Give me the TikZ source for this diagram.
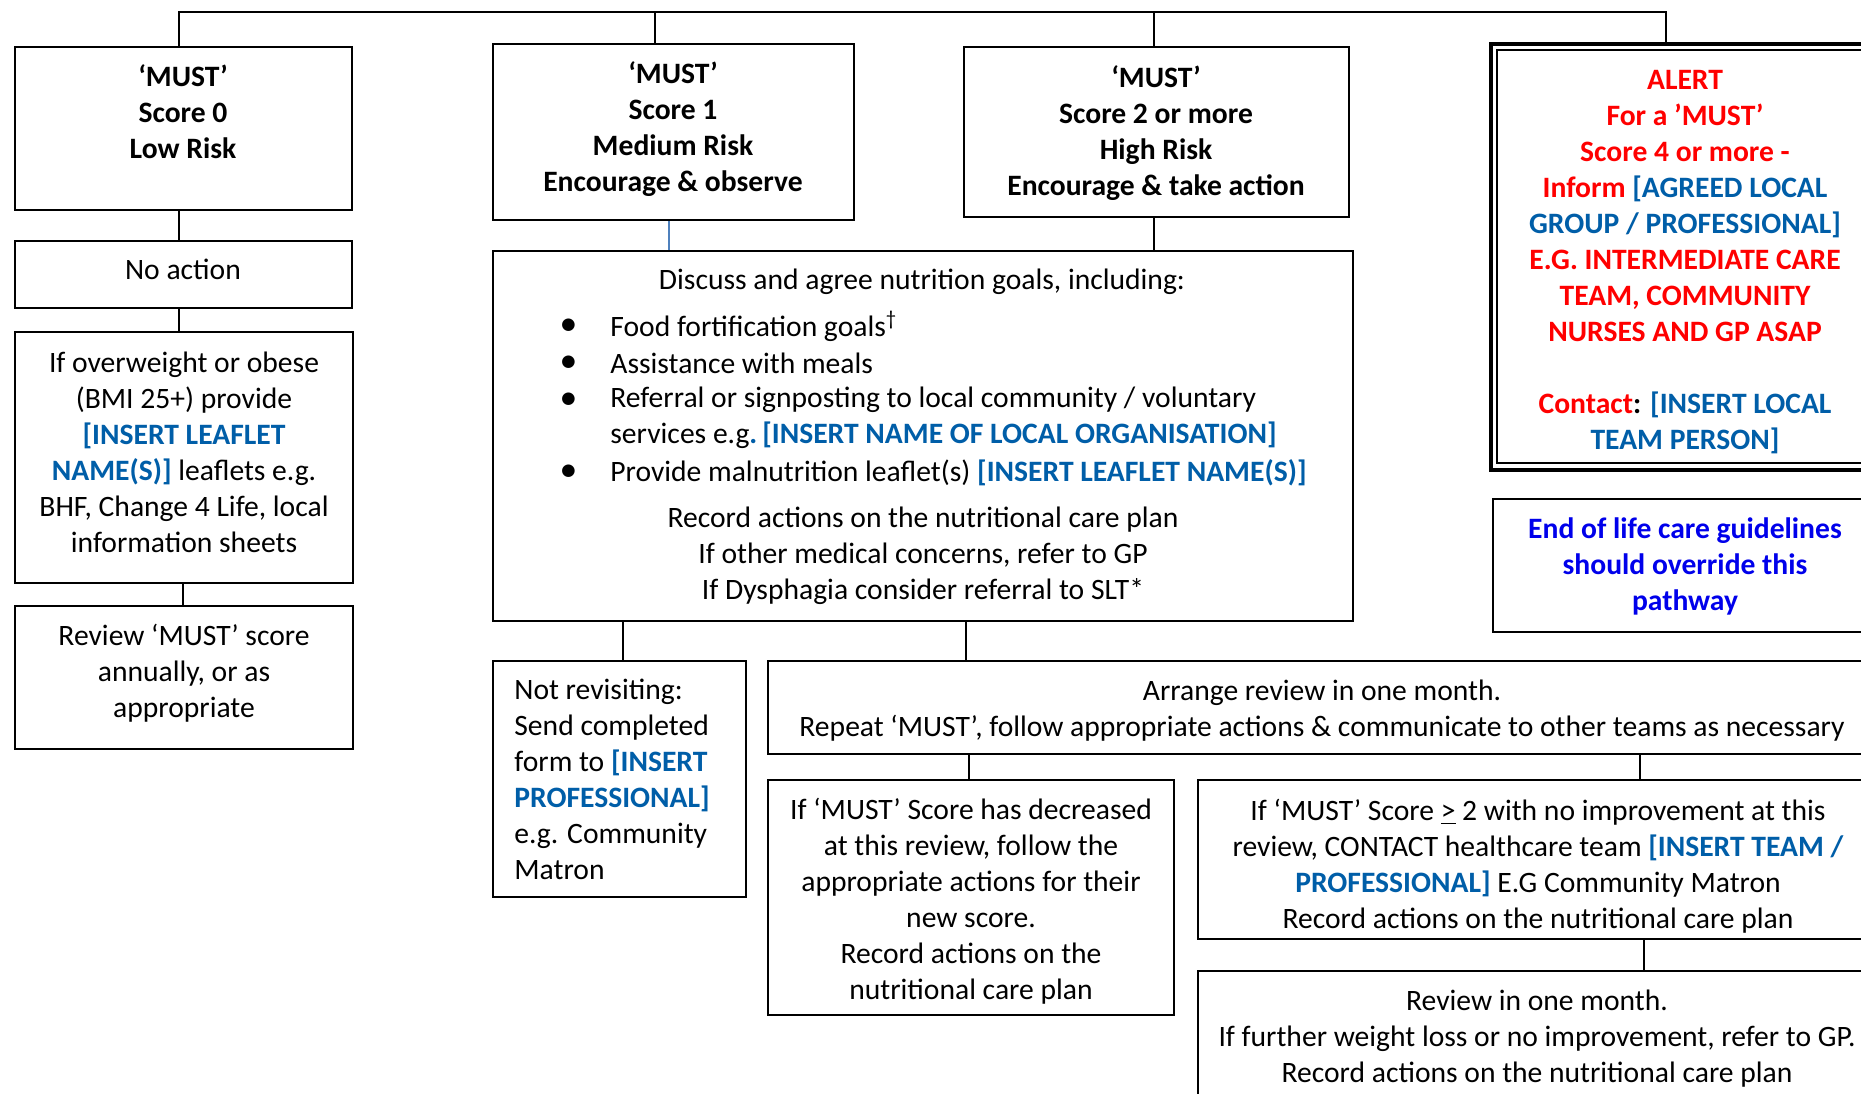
\documentclass[tikz,border=0pt]{standalone}
\usepackage{fontspec}
\setmainfont{Carlito}
\usetikzlibrary{fit}
\definecolor{phblue}{RGB}{0,94,168}
\definecolor{eolblue}{RGB}{0,0,235}
\definecolor{alertred}{RGB}{255,0,0}
\definecolor{lineblue}{RGB}{79,129,189}
\newcommand{\fsz}{\fontsize{14.8}{18}\selectfont}
\newcommand{\ph}[1]{\textcolor{phblue}{\bfseries #1}}
\tikzset{
  box/.style={draw, line width=1pt, inner sep=0pt, fill=none},
  conn/.style={draw, line width=0.75pt},
  txt/.style={align=center, inner sep=0pt, font=\fsz},
  ltxt/.style={align=left, inner sep=0pt, font=\fsz},
}
\begin{document}
\begin{tikzpicture}[x=0.5pt,y=-0.5pt]
\useasboundingbox (0,0) rectangle (1861,1093);
\fill[white] (0,0) rectangle (1861,1093);
\clip (0,0) rectangle (1861,1093);

% ---- boxes ----
\node[box, fit={(15,47) (352,210)}] (b0) {};
\node[box, fit={(493,44) (854,220)}] (b1) {};
\node[box, fit={(964,47) (1349,217)}] (b2) {};
\node[box, line width=1.6pt, fit={(1491,44) (1879,470)}] (alert) {};
\node[box, fit={(1497,50) (1873,463)}] (alertin) {};
\node[box, fit={(1493,499) (1877,632)}] (eol) {};
\node[box, fit={(15,241) (352,308)}] (noact) {};
\node[box, fit={(15,332) (353,583)}] (ow) {};
\node[box, fit={(15,606) (353,749)}] (rev) {};
\node[box, fit={(493,251) (1353,621)}] (disc) {};
\node[box, fit={(493,661) (746,897)}] (notrev) {};
\node[box, fit={(768,661) (1876,754)}] (arr) {};
\node[box, fit={(768,780) (1174,1015)}] (dec) {};
\node[box, fit={(1198,780) (1878,939)}] (ge2) {};
\node[box, fit={(1198,971) (1878,1110)}] (revm) {};

% ---- texts ----
\node[txt, font=\fsz\bfseries] (t0) at (183,112) {‘MUST’\\Score 0\\Low Risk};
\node[txt, font=\fsz\bfseries] (t1) at (673,129) {‘MUST’\\Score 1\\Medium Risk\\Encourage \& observe};
\node[txt, font=\fsz\bfseries] (t2) at (1156,133) {‘MUST’\\Score 2 or more\\High Risk\\Encourage \& take action};
\node[txt, font=\fsz\bfseries, text=alertred] (talert) at (1685,261.7) {ALERT\\For a ’MUST’\\Score 4 or more -\\Inform \textcolor{phblue}{[AGREED LOCAL}\\\textcolor{phblue}{GROUP / PROFESSIONAL]}\\E.G. INTERMEDIATE CARE\\TEAM, COMMUNITY\\NURSES AND GP ASAP\\[18pt]Contact\textcolor{black}{:} \textcolor{phblue}{[INSERT LOCAL}\\\textcolor{phblue}{TEAM PERSON]}};
\node[txt, font=\fsz\bfseries, text=eolblue] (teol) at (1685,566) {End of life care guidelines\\should override this\\pathway};
\node[txt] (tnoact) at (183,269.5) {No action};
\node[txt] (tow) at (184,452) {If overweight or obese\\(BMI 25+) provide\\\ph{[INSERT LEAFLET}\\\ph{NAME(S)]} leaflets e.g.\\BHF, Change 4 Life, local\\information sheets};
\node[txt] (trev) at (184,673.5) {Review ‘MUST’ score\\annually, or as\\appropriate};

\node[txt] (tdisc) at (922,281.4) {Discuss and agree nutrition goals, including:};
\node[txt, font=\fsz\bfseries] (bu1) at (568.5,326) {•};
\node[txt, font=\fsz\bfseries] (bu2) at (568.5,363) {•};
\node[txt, font=\fsz\bfseries] (bu3) at (568.5,400) {•};
\node[txt, font=\fsz\bfseries] (bu4) at (568.5,472.4) {•};
\node[ltxt, anchor=west] (i1) at (610,326.4) {Food fortification goals\textsuperscript{†}};
\node[ltxt, anchor=west] (i2) at (610,363.4) {Assistance with meals};
\node[ltxt, anchor=west] (i3) at (610,417.7) {Referral or signposting to local community / voluntary\\services e.g\ph{.\,[INSERT NAME OF LOCAL ORGANISATION]}};
\node[ltxt, anchor=west] (i4) at (610,472.4) {Provide malnutrition leaflet(s) \ph{[INSERT LEAFLET NAME(S)]}};
\node[txt] (tdisc2) at (923,555.4) {Record actions on the nutritional care plan\\If other medical concerns, refer to GP\\If Dysphagia consider referral to SLT*};

\node[ltxt, anchor=west] (tnotrev) at (514,779) {Not revisiting:\\Send completed\\form to \ph{[INSERT}\\\ph{PROFESSIONAL]}\\e.g. Community\\Matron};
\node[txt] (tarr) at (1322,710.4) {Arrange review in one month.\\Repeat ‘MUST’, follow appropriate actions \& communicate to other teams as necessary};
\node[txt] (tdec) at (971,901) {If ‘MUST’ Score has decreased\\at this review, follow the\\appropriate actions for their\\new score.\\Record actions on the\\nutritional care plan};
\node[txt] (tge2) at (1538,866) {If ‘MUST’ Score \underline{>} 2 with no improvement at this\\review, CONTACT healthcare team \ph{[INSERT TEAM /}\\\ph{PROFESSIONAL]} E.G Community Matron\\Record actions on the nutritional care plan};
\node[txt] (trevm) at (1537,1039) {Review in one month.\\If further weight loss or no improvement, refer to GP.\\Record actions on the nutritional care plan};

% ---- connectors ----
\coordinate (busR) at (1666,12);
\draw[conn] (b0.north -| 179,0) |- (busR) -- (alert.north -| busR);
\draw[conn] (b1.north -| 655,0) -- (655,12);
\draw[conn] (b2.north -| 1154,0) -- (1154,12);
\draw[conn] (b0.south -| 179,0) -- (noact.north -| 179,0);
\draw[conn] (noact.south -| 179,0) -- (ow.north -| 179,0);
\draw[conn] (ow.south -| 183,0) -- (rev.north -| 183,0);
\draw[conn, lineblue, line width=1pt] (b1.south -| 669,0) -- (disc.north -| 669,0);
\draw[conn] (b2.south -| 1154,0) -- (disc.north -| 1154,0);
\draw[conn] (disc.south -| 623,0) -- (notrev.north -| 623,0);
\draw[conn] (disc.south -| 966,0) -- (arr.north -| 966,0);
\draw[conn] (arr.south -| 969,0) -- (dec.north -| 969,0);
\draw[conn] (arr.south -| 1640,0) -- (ge2.north -| 1640,0);
\draw[conn] (ge2.south -| 1644,0) -- (revm.north -| 1644,0);
\end{tikzpicture}
\end{document}
